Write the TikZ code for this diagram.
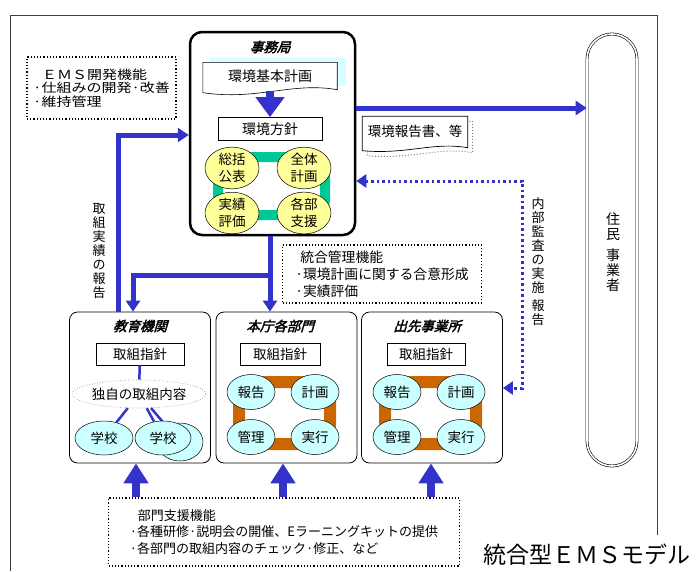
\documentclass[tikz,border=0pt]{standalone}
\usepackage{fontspec}
\setmainfont{Noto Sans CJK JP}
\newfontfamily\ttlfont[FakeSlant=0.3,FakeBold=2.5]{Noto Sans CJK JP}
\newfontfamily\widefont[FakeStretch=1.2]{Noto Sans CJK JP}
\usetikzlibrary{shapes.geometric,arrows.meta}
\definecolor{myblue}{RGB}{51,51,204}
\definecolor{ringgreen}{RGB}{0,200,150}
\definecolor{ringorange}{RGB}{204,102,0}
\definecolor{ellyellow}{RGB}{255,255,153}
\definecolor{ellcyan}{RGB}{204,255,255}
\definecolor{shadowcyan}{RGB}{215,255,255}
\begin{document}
\begin{tikzpicture}[x=1pt,y=-1pt,
  every node/.style={inner sep=0pt},
  font=\fontsize{13.5}{16}\selectfont,
  ttl/.style={font=\ttlfont\fontsize{13.5}{16}\selectfont},
  dept/.style={draw, rounded corners=8, line width=0.8pt, minimum width=141, minimum height=151},
  pbox/.style={draw, line width=0.8pt, minimum height=22, font=\fontsize{13.5}{16}\selectfont},
  dotbox/.style={draw, dotted, line width=1.2pt, align=left},
  yell/.style={ellipse, draw, line width=0.5pt, fill=ellyellow, minimum width=54, minimum height=40, align=center, font=\fontsize{13.5}{17}\selectfont},
  cyell/.style={ellipse, draw, line width=0.5pt, fill=ellcyan, minimum width=48, minimum height=35, font=\fontsize{13.5}{16}\selectfont},
  bl/.style={draw=myblue, line width=5pt},
  bldot/.style={draw=myblue, line width=3pt, dash pattern=on 2.5pt off 3pt},
  tipS/.style={-{Triangle[width=14pt,length=11pt]}},
  fatarrow/.style={draw=myblue, line width=8pt, -{Triangle[width=24pt,length=20pt]}},
  vtxt/.style={align=center, font=\fontsize{13}{14}\selectfont}
]
\useasboundingbox (0,0) rectangle (700,571);
% frame
\draw[line width=0.8pt, black!75] (10,571) -- (10,15) -- (657,15) -- (657,535);

% 住民 事業者 column
\node[draw, double, double distance=1.6pt, line width=0.6pt, rounded corners=25, minimum width=50, minimum height=432] (jumin) at (612,250) {};
\node[vtxt, font=\fontsize{14}{15}\selectfont] (jumint) at (613,252) {住\\民\\[6pt]事\\業\\者};

% 事務局
\node[draw, line width=2.5pt, rounded corners=12, minimum width=165, minimum height=203] (jim) at (272.5,133.5) {};
\node[ttl] (jimt) at (270,47) {事務局};
\fill[shadowcyan] (210,58) rectangle (346,86);
\node[minimum width=134, minimum height=27] (kihon) at (270,76) {};
\draw[fill=white, line width=0.6pt] (kihon.north west) -- (kihon.north east) -- (kihon.south east)
  .. controls +(-45,-8) and +(55,8) .. ([yshift=-3pt]kihon.south west) -- cycle;
\node[font=\fontsize{14}{16}\selectfont] (kihont) at (kihon) {環境基本計画};
\node[pbox, minimum width=104, minimum height=23, font=\fontsize{14}{16}\selectfont] (hoshin) at (270,129) {環境方針};
\draw[fatarrow, -{Triangle[width=28pt,length=20pt]}] ([yshift=-1pt]kihon.south) -- (hoshin.north);
\draw[ringgreen, line width=10pt, rounded corners=16] (218,157) rectangle (325,215);
\node[yell] (e1) at (232,168) {総括\\公表};
\node[yell] (e2) at (304,168) {全体\\計画};
\node[yell] (e3) at (232,213) {実績\\評価};
\node[yell] (e4) at (304,213) {各部\\支援};

% EMS box
\node[dotbox, minimum width=149, minimum height=62, font=\widefont\fontsize{12.5}{13.5}\selectfont] (ems) at (101.5,88)
  {\hspace*{9pt}ＥＭＳ開発機能\\·仕組みの開発·改善\\·維持管理};

% report doc
\node[minimum width=105, minimum height=31] (rep) at (415,132) {};
\draw[dotted, line width=1pt, gray] ([shift={(5pt,-5pt)}]rep.north west) -- ([shift={(5pt,-5pt)}]rep.north east)
  -- ([shift={(5pt,-5pt)}]rep.south east) .. controls +(-35,-6) and +(45,4) .. ([shift={(5pt,-8pt)}]rep.south west) -- cycle;
\draw[fill=white, line width=0.7pt] (rep.north west) -- (rep.north east) -- (rep.south east)
  .. controls +(-35,-6) and +(45,4) .. ([yshift=-3pt]rep.south west) -- cycle;
\node[font=\fontsize{13.5}{16}\selectfont] (rept) at ([yshift=1pt]rep.center) {環境報告書、等};

% 統合管理機能
\node[dotbox, minimum width=199, minimum height=58, font=\fontsize{13.8}{17}\selectfont] (togo) at (382,274)
  {\hspace*{5pt}統合管理機能\\·環境計画に関する合意形成\\·実績評価};

% department boxes
\node[dept] (kyo) at (140,387.5) {};
\node[dept] (hon) at (286.5,387.5) {};
\node[dept] (de) at (432,387.5) {};
\node[ttl] (kyot) at (140,326) {教育機関};
\node[ttl] (hont) at (280,326) {本庁各部門};
\node[ttl] (det) at (427,326) {出先事業所};
\node[pbox, minimum width=88] (kyop) at (140,354) {取組指針};
\node[pbox, minimum width=80] (honp) at (280,354) {取組指針};
\node[pbox, minimum width=78] (dep) at (426,354) {取組指針};

% 教育機関 content
\node[ellipse, draw, dotted, gray, text=black, line width=0.6pt, minimum width=128, minimum height=28] (dk) at (139,394) {独自の取組内容};
\node[ellipse, draw, line width=0.5pt, fill=ellcyan, minimum width=46, minimum height=38] (sh) at (180,442) {};
\draw[myblue, line width=2.5pt] (kyop) -- (dk);
\draw[myblue, line width=2.5pt] (dk) -- (sh);
\node[cyell, minimum width=58, minimum height=34] (s1) at (104,438) {学校};
\node[cyell, minimum width=56, minimum height=34] (s2) at (163,438) {学校};
\draw[myblue, line width=2.5pt] (dk) -- (s1);
\draw[myblue, line width=2.5pt] (dk) -- (s2);

% 本庁 ring
\draw[ringorange, line width=12pt, rounded corners=20] (239,382) rectangle (330,444);
\node[cyell] (h1) at (251,392) {報告};
\node[cyell] (h2) at (315,392) {計画};
\node[cyell] (h3) at (251,437) {管理};
\node[cyell] (h4) at (315,437) {実行};
% 出先 ring
\draw[ringorange, line width=12pt, rounded corners=20] (385,382) rectangle (476,444);
\node[cyell] (d1) at (397,392) {報告};
\node[cyell] (d2) at (461,392) {計画};
\node[cyell] (d3) at (397,437) {管理};
\node[cyell] (d4) at (461,437) {実行};

% connectors
\coordinate (y108) at (0,108);
\draw[bl, tipS] (jim.east |- y108) -- (jumin.west |- y108);
\coordinate (x270) at (270,0);
\draw[bl, tipS] (jim.south -| x270) -- (hon.north -| x270);
\coordinate (br) at (270,275);
\coordinate (x133) at (133,0);
\draw[bl, tipS] (br) -| (x133 |- kyo.north);
\coordinate (x118) at (118,0);
\coordinate (y135) at (0,135);
\draw[bl, tipS] (x118 |- kyo.north) |- (jim.west |- y135);
\node[vtxt] (jisseki) at (99,251) {取\\組\\実\\績\\の\\報\\告};
\coordinate (y181) at (0,181);
\coordinate (y388) at (0,388);
\coordinate (x522) at (522,0);
\draw[bldot, {Triangle[width=13pt,length=10pt]}-{Triangle[width=13pt,length=10pt]}] (jim.east |- y181) -| (x522 |- y388) -- (de.east |- y388);
\node[vtxt] (kansa) at (538,262) {内\\部\\監\\査\\の\\実\\施\\[4pt]報\\告};

% bottom
\node[dotbox, minimum width=351, minimum height=68, font=\fontsize{13}{16.5}\selectfont] (sup) at (284,532)
  {\hspace*{8pt}部門支援機能\\·各種研修·説明会の開催、Eラーニングキットの提供\\·各部門の取組内容のチェック·修正、など};
\coordinate (x136) at (136,0);
\coordinate (x283) at (283,0);
\coordinate (x431) at (431,0);
\draw[fatarrow] (x136 |- sup.north) -- (x136 |- kyo.south);
\draw[fatarrow] (x283 |- sup.north) -- (x283 |- hon.south);
\draw[fatarrow] (x431 |- sup.north) -- (x431 |- de.south);

\node[font=\fontsize{23}{26}\selectfont] (title) at (587,555) {統合型ＥＭＳモデル};
\end{tikzpicture}
\end{document}
